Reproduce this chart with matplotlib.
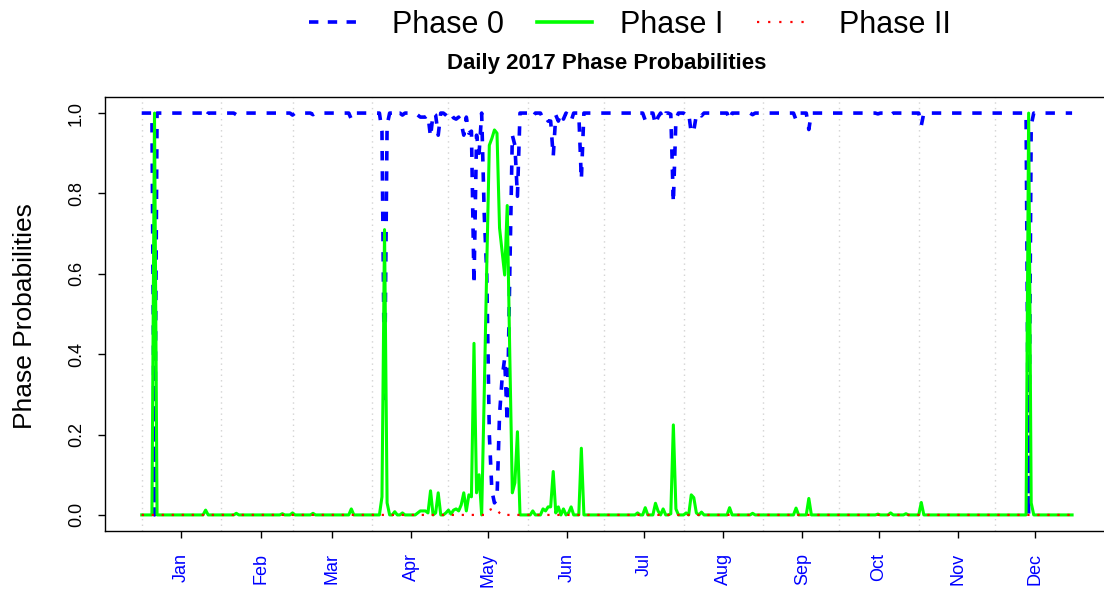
import numpy as np
import matplotlib
matplotlib.use("Agg")
import matplotlib.pyplot as plt
from matplotlib.lines import Line2D

plt.rcParams['font.family'] = ['Liberation Sans', 'DejaVu Sans']

# ---------------- data (day of year 0..364, 2017) ----------------
n_days = 365
month_labels = ["Jan", "Feb", "Mar", "Apr", "May", "Jun",
                "Jul", "Aug", "Sep", "Oct", "Nov", "Dec"]
month_starts = [0, 31, 59, 90, 120, 151, 181, 212, 243, 273, 304, 334]

# Phase I: days with non-zero probability
p1_days = [5, 25, 37, 55, 59, 67, 82, 94, 95, 96, 99, 102,
           108, 109, 110, 111, 112, 113, 115, 116, 119, 120, 121, 122, 123,
           124, 125, 126, 127, 128, 129, 130, 131, 132,
           134, 135, 136, 137, 138, 139, 140, 141, 142, 143, 144, 145, 146, 147,
           153, 157, 158, 159, 160, 161, 162, 163, 165, 167, 168, 172,
           194, 197, 201, 202, 204, 207, 208, 209, 213, 215, 216, 217, 219,
           230, 239, 256, 261, 288, 293, 299, 305, 347, 348]
p1_vals = [1.0, 0.012, 0.004, 0.003, 0.005, 0.004, 0.015, 0.045, 0.71, 0.03, 0.008, 0.005,
           0.005, 0.01, 0.01, 0.01, 0.005, 0.06, 0.005, 0.055, 0.005, 0.012, 0.002, 0.012, 0.015,
           0.01, 0.025, 0.055, 0.01, 0.05, 0.045, 0.427, 0.055, 0.1,
           0.3, 0.62, 0.92, 0.937, 0.958, 0.95, 0.714, 0.655, 0.597, 0.77, 0.4, 0.055, 0.08, 0.207,
           0.01, 0.015, 0.01, 0.02, 0.02, 0.108, 0.005, 0.02, 0.015, 0.005, 0.02, 0.166,
           0.005, 0.018, 0.029, 0.01, 0.015, 0.003, 0.224, 0.015, 0.005, 0.05, 0.043, 0.005, 0.007,
           0.018, 0.004, 0.017, 0.041, 0.002, 0.005, 0.003, 0.031, 1.0, 0.03]

# Phase 0: days where probability is below 1
p0_days = [5, 25, 37, 55, 59, 67, 82, 94, 95, 96, 99, 102,
           108, 109, 110, 111, 112, 113, 115, 116, 119, 120, 121, 122, 123,
           124, 125, 126, 127, 128, 129, 130, 131, 132,
           134, 135, 136, 137, 138, 139, 140, 141, 142, 143, 144, 145, 146, 147,
           153, 157, 158, 159, 160, 161, 162, 163, 165, 167, 168, 172,
           194, 197, 201, 202, 204, 207, 208, 209, 213, 215, 216, 217, 219,
           230, 239, 256, 261, 288, 293, 299, 305, 347, 348]
p0_vals = [0.0, 0.988, 0.996, 0.997, 0.995, 0.996, 0.985, 0.955, 0.29, 0.97, 0.992, 0.995,
           0.995, 0.99, 0.99, 0.99, 0.995, 0.94, 0.995, 0.945, 0.995, 0.988, 0.998, 0.988, 0.985,
           0.99, 0.975, 0.945, 0.99, 0.95, 0.955, 0.573, 0.945, 0.9,
           0.75, 0.6, 0.2, 0.06, 0.03, 0.04, 0.25, 0.34, 0.39, 0.23, 0.6, 0.945, 0.92, 0.793,
           0.99, 0.985, 0.99, 0.98, 0.98, 0.892, 0.995, 0.98, 0.985, 0.995, 0.98, 0.834,
           0.995, 0.982, 0.971, 0.99, 0.985, 0.997, 0.776, 0.985, 0.995, 0.95, 0.957, 0.995, 0.993,
           0.982, 0.996, 0.983, 0.959, 0.998, 0.995, 0.997, 0.969, 0.0, 0.97]

# Phase II: days with non-zero probability
p2_days = [135, 136, 137, 138, 139, 140]
p2_vals = [0.008, 0.012, 0.015, 0.013, 0.012, 0.005]

days = np.arange(n_days)
phase1 = np.zeros(n_days)
phase1[p1_days] = p1_vals
phase0 = np.ones(n_days)
phase0[p0_days] = p0_vals
phase2 = np.zeros(n_days)
phase2[p2_days] = p2_vals

# ---------------- figure ----------------
W, H = 1104, 592
fig = plt.figure(figsize=(W / 100, H / 100), dpi=100)
x_left, x_right = 104.5, 1109.3
y_top, y_bot = 97, 531
ax = fig.add_axes([x_left / W, (H - y_bot) / H, (x_right - x_left) / W, (y_bot - y_top) / H])

pad_x = 0.04 * (n_days - 1)
ax.set_xlim(-pad_x, n_days - 1 + pad_x)
ax.set_ylim(-0.04, 1.04)

for ms in month_starts:
    ax.axvline(ms, color="#D3D3D3", lw=1.0, ls=(0, (1, 3)), zorder=0)

l0, = ax.plot(days, phase0, color="#0000FF", lw=2.6, dashes=(2.6, 3.0),
              dash_capstyle="butt", zorder=2)
l1, = ax.plot(days, phase1, color="#00FF00", lw=2.2, zorder=3)
l2, = ax.plot(days, phase2, color="#FF0000", lw=1.6, dashes=(1, 3.5), zorder=4)

ax.set_xticks([m + 15.5 for m in month_starts])
ax.set_xticklabels(month_labels)
ax.tick_params(axis="x", labelrotation=90, labelcolor="#0000FF", labelsize=13,
               length=5, width=1.0, pad=11)
ax.set_yticks([0.0, 0.2, 0.4, 0.6, 0.8, 1.0])
ax.set_yticklabels(["0.0", "0.2", "0.4", "0.6", "0.8", "1.0"], va="center")
ax.tick_params(axis="y", labelrotation=90, labelsize=13, length=5, width=1.0, pad=9)
for sp in ax.spines.values():
    sp.set_linewidth(1.0)

fig.text(25 / W, 1 - 316 / H, "Phase Probabilities", rotation=90, fontsize=19,
         ha="center", va="center")
fig.text((x_left + x_right) / 2 / W, 1 - 63 / H, "Daily 2017 Phase Probabilities",
         fontsize=16, fontweight="bold", ha="center", va="center")

handles = [Line2D([], [], color="#0000FF", lw=2.6, dashes=(2.6, 2.6), dash_capstyle="butt"),
           Line2D([], [], color="#00FF00", lw=2.6),
           Line2D([], [], color="#FF0000", lw=1.6, dashes=(1, 4))]
fig.legend(handles, ["Phase 0", "Phase I", "Phase II"], loc="center",
           bbox_to_anchor=(630 / W, 1 - 25 / H), ncol=3, frameon=False,
           fontsize=22, handlelength=1.8, handletextpad=0.9, columnspacing=1.1)

fig.savefig("out.png", dpi=100)
